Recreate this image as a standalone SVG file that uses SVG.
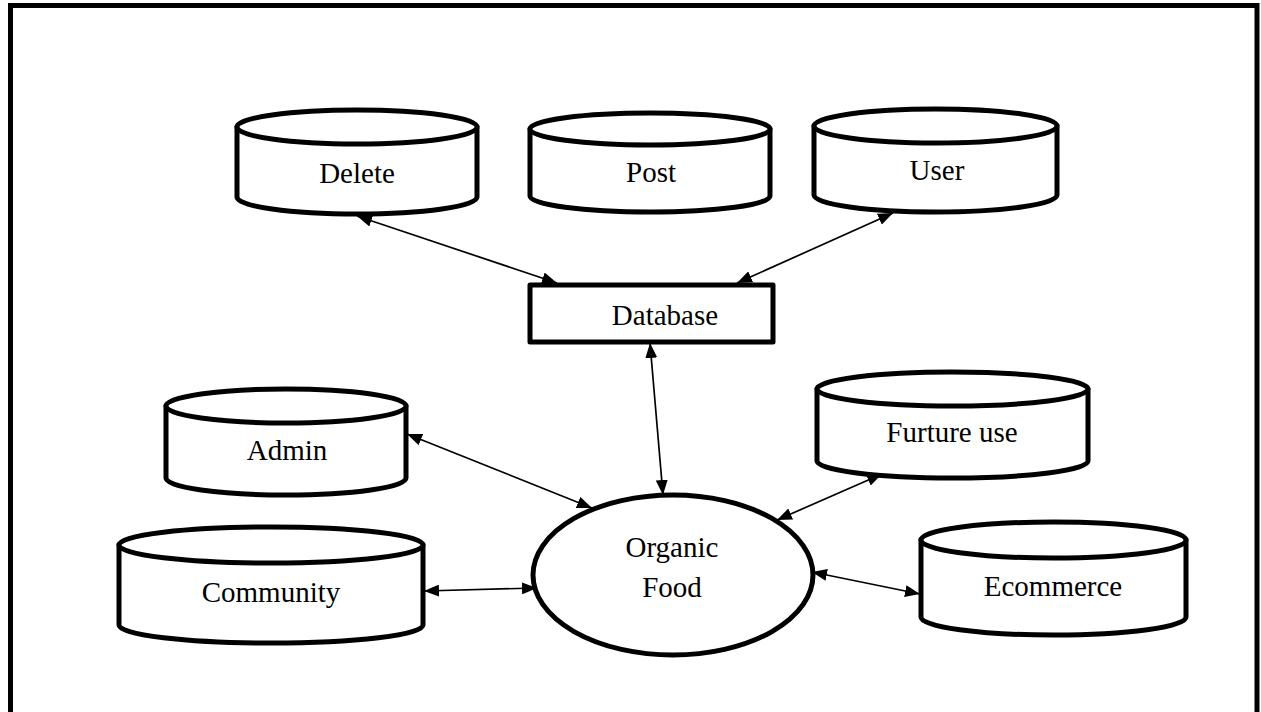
<svg xmlns="http://www.w3.org/2000/svg" width="1261" height="712" viewBox="0 0 1261 712">
<defs>
<marker id="ah" viewBox="0 0 15 12" refX="15" refY="6" markerWidth="15" markerHeight="12" markerUnits="userSpaceOnUse" orient="auto-start-reverse">
<path d="M0,0 L15,6 L0,12 Z" fill="#000"/>
</marker>
</defs>
<style>
.shape{fill:#fff;stroke:#000;stroke-width:5;stroke-linejoin:round}
.lbl{font-family:"Liberation Serif","Times New Roman",serif;font-size:29px;fill:#000;text-anchor:middle}
.conn line{stroke:#000;stroke-width:1.7;marker-start:url(#ah);marker-end:url(#ah)}
</style>
<rect width="1261" height="712" fill="#fff"/>
<path d="M10.5,712 L10.5,5.5 L1257,5.5 L1257,712" fill="none" stroke="#000" stroke-width="5"/>

<g class="conn" id="connectors">
<line x1="357" y1="216" x2="557" y2="283"/>
<line x1="893" y1="213" x2="737" y2="283"/>
<line x1="650" y1="343" x2="663" y2="495"/>
<line x1="407" y1="434" x2="592" y2="508"/>
<line x1="424" y1="591" x2="537" y2="588"/>
<line x1="882" y1="474" x2="777" y2="520"/>
<line x1="812" y1="572" x2="920" y2="594"/>
</g>

<g id="delete">
<path class="shape" d="M237,127 L237,197 A120,17 0 0 0 477,197 L477,127 Z"/>
<ellipse class="shape" cx="357" cy="127" rx="120" ry="17"/>
<text class="lbl" x="357" y="183">Delete</text>
</g>
<g id="post">
<path class="shape" d="M530,129 L530,196 A120,16 0 0 0 770,196 L770,129 Z"/>
<ellipse class="shape" cx="650" cy="129" rx="120" ry="16"/>
<text class="lbl" x="651" y="182">Post</text>
</g>
<g id="user">
<path class="shape" d="M814,126 L814,195 A121.5,17 0 0 0 1057,195 L1057,126 Z"/>
<ellipse class="shape" cx="935.5" cy="126" rx="121.5" ry="17"/>
<text class="lbl" x="937" y="180">User</text>
</g>
<g id="database">
<rect class="shape" x="530" y="285" width="243" height="57"/>
<text class="lbl" x="665" y="325">Database</text>
</g>
<g id="admin">
<path class="shape" d="M166,406 L166,478 A120,17 0 0 0 406,478 L406,406 Z"/>
<ellipse class="shape" cx="286" cy="406" rx="120" ry="17"/>
<text class="lbl" x="287" y="460">Admin</text>
</g>
<g id="community">
<path class="shape" d="M119,545 L119,625 A152,18 0 0 0 423,625 L423,545 Z"/>
<ellipse class="shape" cx="271" cy="545" rx="152" ry="18"/>
<text class="lbl" x="271" y="602">Community</text>
</g>
<g id="furture">
<path class="shape" d="M817,389 L817,461 A135.5,17 0 0 0 1088,461 L1088,389 Z"/>
<ellipse class="shape" cx="952.5" cy="389" rx="135.5" ry="17"/>
<text class="lbl" x="952" y="442">Furture use</text>
</g>
<g id="ecommerce">
<path class="shape" d="M921,540 L921,617 A132.5,18 0 0 0 1186,617 L1186,540 Z"/>
<ellipse class="shape" cx="1053.5" cy="540" rx="132.5" ry="18"/>
<text class="lbl" x="1053" y="596">Ecommerce</text>
</g>
<g id="organic">
<ellipse class="shape" cx="673" cy="575" rx="140" ry="80"/>
<text class="lbl" x="672" y="557">Organic</text>
<text class="lbl" x="672" y="597">Food</text>
</g>
</svg>
